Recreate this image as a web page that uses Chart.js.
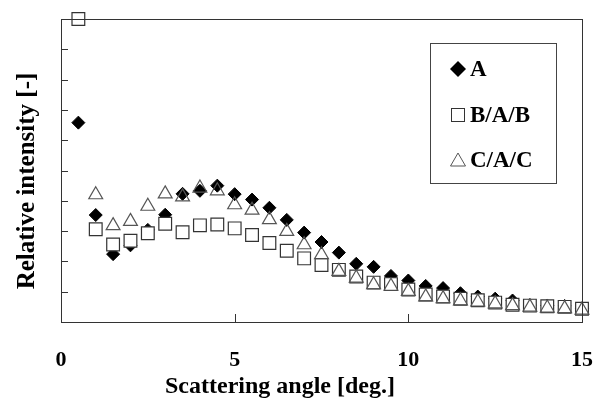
<!DOCTYPE html>
<html>
<head>
<meta charset="utf-8">
<script src="https://cdn.jsdelivr.net/npm/chart.js@4.4.1/dist/chart.umd.min.js"></script>
<style>
  html, body { margin: 0; padding: 0; background: #fff; }
  #myChart { display: block; }
</style>
</head>
<body>
<canvas id="myChart" width="601" height="403"></canvas>
<script>
const angles = [0.5, 1.0, 1.5, 2.0, 2.5, 3.0, 3.5, 4.0, 4.5, 5.0,
  5.5, 6.0, 6.5, 7.0, 7.5, 8.0, 8.5, 9.0, 9.5, 10.0,
  10.5, 11.0, 11.5, 12.0, 12.5, 13.0, 13.5, 14.0, 14.5, 15.0];

const seriesA = [6.58, 3.53, 2.24, 2.53, 3.04, 3.54, 4.23, 4.33, 4.50, 4.22,
  4.04, 3.77, 3.37, 2.95, 2.64, 2.29, 1.92, 1.82, 1.52, 1.37,
  1.19, 1.12, 0.95, 0.84, 0.77, 0.71, 0.56, 0.54, 0.53, 0.45];

const seriesB = [10.0, 3.06, 2.56, 2.68, 2.93, 3.24, 2.96, 3.19, 3.22, 3.09,
  2.87, 2.61, 2.35, 2.10, 1.88, 1.72, 1.50, 1.30, 1.25, 1.07,
  0.91, 0.84, 0.77, 0.72, 0.64, 0.57, 0.54, 0.52, 0.50, 0.44];

const seriesC = [null, 4.20, 3.18, 3.32, 3.82, 4.23, 4.13, 4.42, 4.33, 3.87,
  3.69, 3.38, 2.99, 2.55, 2.22, 1.67, 1.45, 1.23, 1.18, 1.01,
  0.83, 0.77, 0.70, 0.66, 0.60, 0.54, 0.49, 0.46, 0.44, 0.39];

const xTicks = [0, 5, 10, 15];
const seriesNames = ["A", "B/A/B", "C/A/C"];

const serif = "'Liberation Serif', 'DejaVu Serif', serif";

function toPoints(ys) {
  return angles.map((x, i) => ({ x: x, y: ys[i] }));
}

// inward ticks, full frame, axis titles and the boxed legend
const framePlugin = {
  id: "frame",
  afterDraw(chart) {
    const { ctx, chartArea: a, scales } = chart;
    ctx.save();
    ctx.strokeStyle = "#333";
    ctx.lineWidth = 1;
    ctx.strokeRect(a.left + 0.5, a.top + 0.5, a.right - a.left, a.bottom - a.top);

    ctx.beginPath();
    scales.x.ticks.forEach((t) => {
      const px = Math.round(scales.x.getPixelForValue(t.value)) + 0.5;
      ctx.moveTo(px, a.bottom);
      ctx.lineTo(px, a.bottom - 8);
    });
    scales.y.ticks.forEach((t) => {
      const py = Math.round(scales.y.getPixelForValue(t.value)) + 0.5;
      ctx.moveTo(a.left, py);
      ctx.lineTo(a.left + 7, py);
    });
    ctx.stroke();

    // axis titles
    ctx.fillStyle = "#000";
    ctx.font = "bold 24px " + serif;
    ctx.textAlign = "center";
    ctx.textBaseline = "middle";
    ctx.fillText("Scattering angle [deg.]", 280, 387);
    ctx.save();
    ctx.translate(28, 181);
    ctx.rotate(-Math.PI / 2);
    ctx.font = "bold 25px " + serif;
    ctx.fillText("Relative intensity [-]", 0, 0);
    ctx.restore();

    // legend
    ctx.strokeStyle = "#444";
    ctx.strokeRect(430.5, 43.5, 126, 140);
    const mx = 458;
    const rows = [69, 115, 160];
    ctx.beginPath();
    ctx.moveTo(mx, rows[0] - 8);
    ctx.lineTo(mx + 8, rows[0]);
    ctx.lineTo(mx, rows[0] + 8);
    ctx.lineTo(mx - 8, rows[0]);
    ctx.closePath();
    ctx.fillStyle = "#000";
    ctx.fill();
    ctx.strokeStyle = "#333";
    ctx.strokeRect(mx - 6.5, rows[1] - 6.5, 13, 13);
    ctx.beginPath();
    ctx.moveTo(mx, rows[2] - 7);
    ctx.lineTo(mx + 7.5, rows[2] + 6);
    ctx.lineTo(mx - 7.5, rows[2] + 6);
    ctx.closePath();
    ctx.strokeStyle = "#555";
    ctx.stroke();

    ctx.fillStyle = "#000";
    ctx.font = "bold 23px " + serif;
    ctx.textAlign = "left";
    seriesNames.forEach((name, i) => {
      ctx.fillText(name, 470, rows[i] + 1);
    });
    ctx.restore();
  },
};

const data = {
  datasets: [
    {
      label: seriesNames[0],
      data: toPoints(seriesA),
      pointStyle: "rectRot",
      pointRadius: 6.5,
      backgroundColor: "#000",
      borderColor: "#000",
      pointBorderWidth: 1,
      order: 3, // bottom layer
      clip: false,
    },
    {
      label: seriesNames[1],
      data: toPoints(seriesB),
      pointStyle: "rect",
      pointRadius: 9,
      backgroundColor: "#fff",
      borderColor: "#333",
      pointBorderWidth: 1.2,
      order: 2,
      clip: false,
    },
    {
      label: seriesNames[2],
      data: toPoints(seriesC),
      pointStyle: "triangle",
      pointRadius: 8,
      backgroundColor: "rgba(255, 255, 255, 0)", // hollow, diamonds show through
      borderColor: "#555",
      pointBorderWidth: 1.2,
      order: 1, // top layer
      clip: false,
    },
  ],
};

const config = {
  type: "scatter",
  data: data,
  plugins: [framePlugin],
  options: {
    responsive: false,
    animation: false,
    layout: {
      padding: { top: 19, right: 19, left: 0, bottom: 0 },
    },
    plugins: {
      legend: { display: false },
      tooltip: { enabled: false },
    },
    scales: {
      x: {
        type: "linear",
        min: 0,
        max: 15,
        afterBuildTicks: (scale) => {
          scale.ticks = xTicks.map((v) => ({ value: v }));
        },
        afterFit: (scale) => {
          scale.height = 81;
          scale.paddingLeft = 0;
          scale.paddingRight = 0;
        },
        grid: { display: false, drawTicks: false },
        border: { display: false },
        ticks: {
          padding: 25,
          color: "#000",
          font: { family: serif, size: 22, weight: "bold" },
        },
      },
      y: {
        min: 0,
        max: 10,
        afterFit: (scale) => {
          scale.width = 61;
          scale.paddingTop = 0;
          scale.paddingBottom = 0;
        },
        grid: { display: false, drawTicks: false },
        border: { display: false },
        ticks: { stepSize: 1, display: false },
      },
    },
  },
};

const myChart = new Chart(document.getElementById("myChart").getContext("2d"), config);
</script>
</body>
</html>
